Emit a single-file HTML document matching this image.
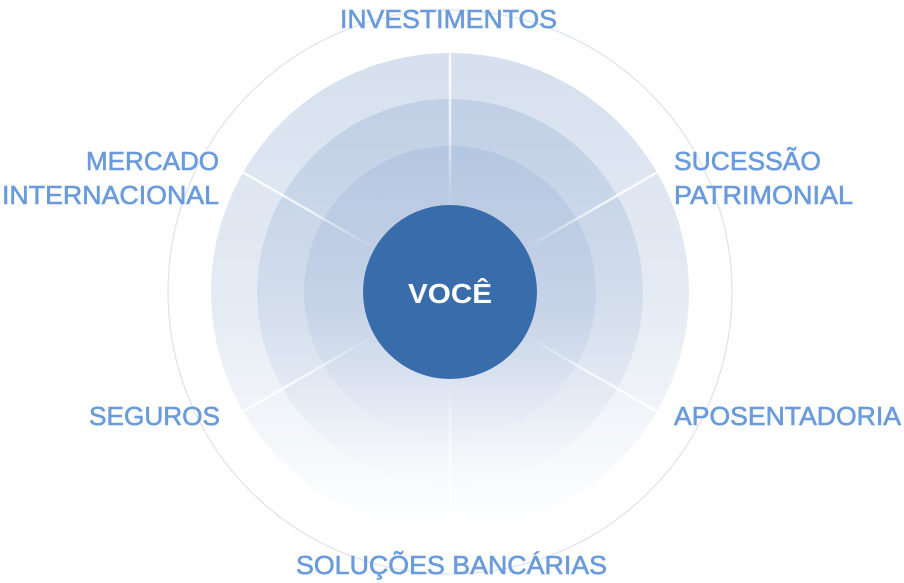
<!DOCTYPE html>
<html><head><meta charset="utf-8"><style>html,body{margin:0;padding:0;background:#fff}svg{display:block}</style></head><body>
<svg width="904" height="583" viewBox="0 0 904 583" xmlns="http://www.w3.org/2000/svg">
<defs>
<linearGradient id="g" x1="0" y1="0" x2="0" y2="1">
<stop offset="0" stop-color="#a3b9d9" stop-opacity="0.45"/>
<stop offset="0.55" stop-color="#a3b9d9" stop-opacity="0.27"/>
<stop offset="1" stop-color="#a3b9d9" stop-opacity="0"/>
</linearGradient>
<radialGradient id="sp" cx="450" cy="292" r="282" gradientUnits="userSpaceOnUse">
<stop offset="0.3" stop-color="#fff" stop-opacity="0"/>
<stop offset="0.6" stop-color="#fff" stop-opacity="0.7"/>
<stop offset="1" stop-color="#fff" stop-opacity="1"/>
</radialGradient>
</defs>
<circle cx="450" cy="292" r="282" fill="none" stroke="#dbe3ef" stroke-width="1.2"/>
<circle cx="450" cy="292" r="239" fill="url(#g)"/>
<circle cx="450" cy="292" r="193" fill="url(#g)"/>
<circle cx="450" cy="292" r="146" fill="url(#g)"/>
<g stroke="url(#sp)" stroke-width="2.5">
<line x1="450" y1="292" x2="450" y2="10"/>
<line x1="450" y1="292" x2="450" y2="574"/>
<line x1="450" y1="292" x2="694" y2="151"/>
<line x1="450" y1="292" x2="206" y2="151"/>
<line x1="450" y1="292" x2="694" y2="433"/>
<line x1="450" y1="292" x2="206" y2="433"/>
</g>
<circle cx="450" cy="292" r="87" fill="#386cab"/>
<g font-family="'Liberation Sans Narrow','Liberation Sans',sans-serif" font-size="26" fill="#6a9bdb" stroke="#6a9bdb" stroke-width="0.6">
<text x="340" y="28" textLength="217" lengthAdjust="spacingAndGlyphs">INVESTIMENTOS</text>
<text x="86" y="170" textLength="133" lengthAdjust="spacingAndGlyphs">MERCADO</text>
<text x="2" y="204" textLength="217" lengthAdjust="spacingAndGlyphs">INTERNACIONAL</text>
<text x="674" y="170" textLength="147" lengthAdjust="spacingAndGlyphs">SUCESSÃO</text>
<text x="674" y="204" textLength="179" lengthAdjust="spacingAndGlyphs">PATRIMONIAL</text>
<text x="89" y="425" textLength="131" lengthAdjust="spacingAndGlyphs">SEGUROS</text>
<text x="674" y="425" textLength="227" lengthAdjust="spacingAndGlyphs">APOSENTADORIA</text>
<text x="296" y="574" textLength="311" lengthAdjust="spacingAndGlyphs">SOLUÇÕES BANCÁRIAS</text>
</g>
<text x="450" y="303" text-anchor="middle" font-family="'Liberation Sans',sans-serif" font-weight="bold" font-size="28" fill="#fff" textLength="84" lengthAdjust="spacingAndGlyphs">VOCÊ</text>
</svg>
</body></html>
